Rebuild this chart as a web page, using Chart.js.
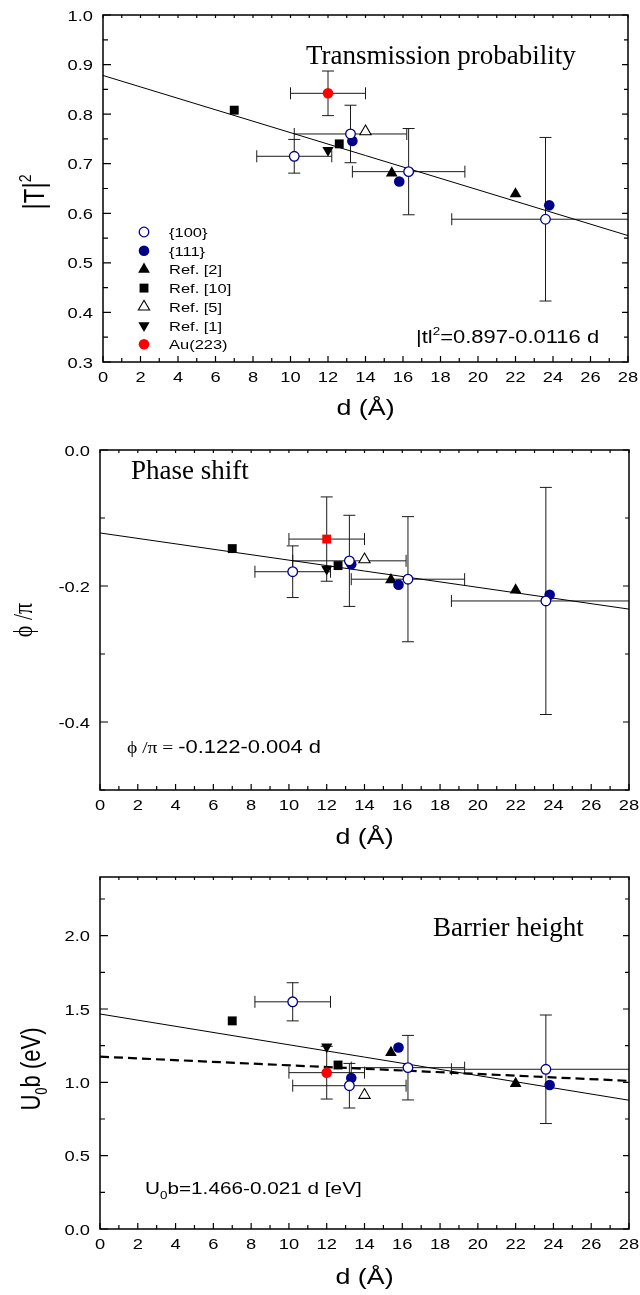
<!DOCTYPE html>
<html>
<head>
<meta charset="utf-8">
<script src="https://cdn.jsdelivr.net/npm/chart.js@4.4.1/dist/chart.umd.min.js"></script>
<style>
body { margin: 0; background: #fff; width: 640px; height: 1295px; overflow: hidden; position: relative; }
canvas { position: absolute; left: 0; }
</style>
</head>
<body>
<canvas id="c1" width="640" height="425" style="top:0px"></canvas>
<canvas id="c2" width="640" height="435" style="top:425px"></canvas>
<canvas id="c3" width="640" height="435" style="top:860px"></canvas>
<script>
// thickness d (Å), shared by all three panels
const d100 = [10.2, 13.2, 16.3, 23.6];
const d100Err = [2, 3, 3, 5];
const d111 = [13.3, 15.8, 23.8];
const dRef2 = [15.4, 22.0];
const dRef10 = [7.0, 12.6];
const dRef5 = [14.0];
const dRef1 = [12.0];
const dAu = [12.0];
const dAuErr = [2];
const dFit = [0, 28];

// |T|^2
const t100 = [0.715, 0.760, 0.684, 0.588];
const t100Err = [0.034, 0.058, 0.087, 0.165];
const t111 = [0.746, 0.664, 0.616];
const tRef2 = [0.681, 0.639];
const tRef10 = [0.808, 0.740];
const tRef5 = [0.765];
const tRef1 = [0.727];
const tAu = [0.842];
const tAuErr = [0.045];
const tFit = [0.878, 0.555];

// phi / pi
const p100 = [-0.179, -0.163, -0.190, -0.222];
const p100Err = [0.038, 0.067, 0.092, 0.167];
const p111 = [-0.168, -0.198, -0.213];
const pRef2 = [-0.191, -0.206];
const pRef10 = [-0.145, -0.170];
const pRef5 = [-0.161];
const pRef1 = [-0.175];
const pAu = [-0.131];
const pAuErr = [0.062];
const pFit = [-0.122, -0.234];

// U0 b (eV)
const u100 = [1.549, 0.977, 1.100, 1.089];
const u100Err = [0.13, 0.152, 0.22, 0.37];
const u111 = [1.030, 1.237, 0.982];
const uRef2 = [1.203, 0.991];
const uRef10 = [1.419, 1.118];
const uRef5 = [0.913];
const uRef1 = [1.242];
const uAu = [1.066];
const uAuErr = [0.18];
const uFit = [1.466, 0.878];
const uFitDash = [1.175, 1.010];

// tick labels
const dTickLabels = [0, 2, 4, 6, 8, 10, 12, 14, 16, 18, 20, 22, 24, 26, 28];
const tTickLabels = [0.3, 0.4, 0.5, 0.6, 0.7, 0.8, 0.9, 1.0];
const pTickLabels = [0.0, -0.2, -0.4];
const uTickLabels = [0.0, 0.5, 1.0, 1.5, 2.0];

const legendLabels = ["{100}", "{111}", "Ref. [2]", "Ref. [10]", "Ref. [5]", "Ref. [1]", "Au(223)"];

const NAVY = "#00008b";
const SANS = '"Liberation Sans", Arial, sans-serif';
const SERIF = '"Liberation Serif", "Times New Roman", serif';
const SX = 1.22; // sans text in the figure is a little wide

function pts(xs, ys) {
    return xs.map((x, i) => ({ x: x, y: ys[i] }));
}

function tickValues(min, max, step) {
    const v = [];
    for (let k = Math.round(min / step); k * step <= max + 1e-9; k++) {
        v.push(+(k * step).toFixed(6));
    }
    return v;
}

// draw a run of text pieces: [text, size, dy, family]
function textRun(ctx, parts, x, y, align, sx, rotate) {
    ctx.save();
    ctx.translate(x, y);
    ctx.scale(sx || 1, 1);
    if (rotate) ctx.rotate(-Math.PI / 2);
    let w = 0;
    parts.forEach(p => {
        ctx.font = p[1] + "px " + (p[3] || SANS);
        w += ctx.measureText(p[0]).width;
    });
    let cx = align === "center" ? -w / 2 : (align === "right" ? -w : 0);
    ctx.textAlign = "left";
    ctx.textBaseline = "alphabetic";
    ctx.fillStyle = "#000";
    parts.forEach(p => {
        ctx.font = p[1] + "px " + (p[3] || SANS);
        ctx.fillText(p[0], cx, p[2] || 0);
        cx += ctx.measureText(p[0]).width;
    });
    ctx.restore();
}

function marker(ctx, ds, x, y) {
    ctx.save();
    ctx.fillStyle = ds.pointBackgroundColor;
    ctx.strokeStyle = ds.pointBorderColor;
    ctx.lineWidth = ds.pointBorderWidth;
    Chart.helpers.drawPoint(ctx, {
        pointStyle: ds.legendStyle || ds.pointStyle,
        radius: ds.pointRadius,
        rotation: ds.pointRotation || 0,
        borderWidth: ds.pointBorderWidth
    }, x, y);
    ctx.restore();
}

const decor = {
    id: "decor",
    beforeDatasetsDraw(chart, args, o) {
        const { ctx, chartArea: a } = chart;
        const xs = chart.scales.x, ys = chart.scales.y;
        ctx.save();
        ctx.beginPath();
        ctx.rect(a.left, a.top, a.right - a.left, a.bottom - a.top);
        ctx.clip();
        ctx.strokeStyle = "#1a1a1a";
        ctx.lineWidth = 1;
        chart.data.datasets.forEach(ds => {
            if (!ds.errX && !ds.errY) return;
            ds.data.forEach((p, i) => {
                const px = xs.getPixelForValue(p.x), py = ys.getPixelForValue(p.y);
                const ex = ds.errX ? ds.errX[i] : 0;
                const ey = ds.errY ? ds.errY[i] : 0;
                ctx.beginPath();
                if (ex) {
                    const x0 = xs.getPixelForValue(p.x - ex), x1 = xs.getPixelForValue(p.x + ex);
                    ctx.moveTo(x0, py); ctx.lineTo(x1, py);
                    ctx.moveTo(x0, py - 6); ctx.lineTo(x0, py + 6);
                    ctx.moveTo(x1, py - 6); ctx.lineTo(x1, py + 6);
                }
                if (ey) {
                    const y0 = ys.getPixelForValue(p.y + ey), y1 = ys.getPixelForValue(p.y - ey);
                    ctx.moveTo(px, y0); ctx.lineTo(px, y1);
                    ctx.moveTo(px - 6, y0); ctx.lineTo(px + 6, y0);
                    ctx.moveTo(px - 6, y1); ctx.lineTo(px + 6, y1);
                }
                ctx.stroke();
            });
        });
        ctx.restore();
    },
    afterDraw(chart, args, o) {
        const { ctx, chartArea: a } = chart;
        const xs = chart.scales.x, ys = chart.scales.y;
        ctx.save();
        // frame
        ctx.strokeStyle = "#000";
        ctx.lineWidth = 1.5;
        ctx.strokeRect(a.left, a.top, a.right - a.left, a.bottom - a.top);
        // ticks
        ctx.lineWidth = 1.2;
        ctx.beginPath();
        tickValues(xs.min, xs.max, 1).forEach(v => {
            const px = xs.getPixelForValue(v);
            const len = v % 2 === 0 ? 6 : 4;
            ctx.moveTo(px, a.bottom); ctx.lineTo(px, a.bottom - len);
            ctx.moveTo(px, a.top); ctx.lineTo(px, a.top + 3);
        });
        tickValues(ys.min, ys.max, o.minor).forEach(v => {
            const py = ys.getPixelForValue(v);
            const major = o.yLabels.some(l => Math.abs(l - v) < 1e-6);
            ctx.moveTo(a.left, py); ctx.lineTo(a.left + (major ? 8 : 5), py);
            ctx.moveTo(a.right, py); ctx.lineTo(a.right - (major ? 6 : 4), py);
        });
        ctx.stroke();
        ctx.restore();

        // tick labels
        ctx.save();
        ctx.fillStyle = "#000";
        dTickLabels.forEach(v => {
            textRun(ctx, [[String(v), 15]], xs.getPixelForValue(v), a.bottom + 20, "center", SX);
        });
        o.yLabels.forEach(v => {
            textRun(ctx, [[v.toFixed(1), 15]], a.left - 10, ys.getPixelForValue(v) + 5.5, "right", SX);
        });
        ctx.restore();

        // axis titles
        textRun(ctx, [["d (Å)", 22]], (a.left + a.right) / 2, o.xTitleY, "center", SX);
        textRun(ctx, o.yTitle, o.yTitleX, o.yTitleY, "center", SX, true);

        // panel title
        textRun(ctx, [[o.title, 27, 0, SERIF]], o.titleX, o.titleY, "left", 1);

        // equation
        textRun(ctx, o.eq, o.eqX, o.eqY, "left", SX);

        // legend
        if (o.legend) {
            chart.data.datasets.slice(0, 7).forEach((ds, i) => {
                const yy = 232 + i * 18.7;
                marker(ctx, ds, 144, yy);
                textRun(ctx, [[ds.label, 13.5]], 169, yy + 5, "left", SX);
            });
        }
    }
};

function buildDatasets(v) {
    const sets = [
        { label: legendLabels[0], data: pts(d100, v.s100), errX: d100Err, errY: v.e100,
          pointStyle: "circle", pointRadius: 4.8, pointBackgroundColor: "#fff",
          pointBorderColor: NAVY, pointBorderWidth: 1.3 },
        { label: legendLabels[1], data: pts(d111, v.s111),
          pointStyle: "circle", pointRadius: 5.3, pointBackgroundColor: NAVY,
          pointBorderColor: NAVY, pointBorderWidth: 0 },
        { label: legendLabels[2], data: pts(dRef2, v.ref2),
          pointStyle: "triangle", pointRadius: 6.8, pointBackgroundColor: "#000",
          pointBorderColor: "#000", pointBorderWidth: 0 },
        { label: legendLabels[3], data: pts(dRef10, v.ref10),
          pointStyle: "rect", pointRadius: 6.3, pointBackgroundColor: "#000",
          pointBorderColor: "#000", pointBorderWidth: 0 },
        { label: legendLabels[4], data: pts(dRef5, v.ref5),
          pointStyle: "triangle", pointRadius: 6.5, pointBackgroundColor: "#fff",
          pointBorderColor: "#000", pointBorderWidth: 1.1 },
        { label: legendLabels[5], data: pts(dRef1, v.ref1),
          pointStyle: "triangle", pointRotation: 180, pointRadius: 6.5, pointBackgroundColor: "#000",
          pointBorderColor: "#000", pointBorderWidth: 0 },
        { label: legendLabels[6], data: pts(dAu, v.au), errX: dAuErr, errY: v.eAu,
          pointStyle: v.auStyle, legendStyle: "circle", pointRadius: v.auStyle === "rect" ? 6.3 : 5.3,
          pointBackgroundColor: "#ff0000", pointBorderColor: "#ff0000", pointBorderWidth: 0 }
    ];
    sets.forEach(s => { s.showLine = false; });
    v.fits.forEach(f => {
        sets.push({
            label: "fit", data: pts(dFit, f.y), showLine: true, pointRadius: 0,
            borderColor: "#000", borderWidth: f.dash ? 2.2 : 1, borderDash: f.dash || [],
            order: 10
        });
    });
    return sets;
}

function makePanel(id, area, yMin, yMax, v, deco) {
    const canvas = document.getElementById(id);
    return new Chart(canvas.getContext("2d"), {
        type: "scatter",
        data: { datasets: buildDatasets(v) },
        options: {
            responsive: false,
            animation: false,
            devicePixelRatio: 1,
            events: [],
            layout: {
                padding: {
                    left: area.l, top: area.t,
                    right: canvas.width - area.r, bottom: canvas.height - area.b
                }
            },
            scales: {
                x: { type: "linear", min: 0, max: 28, display: false },
                y: { type: "linear", min: yMin, max: yMax, display: false }
            },
            plugins: {
                legend: { display: false },
                tooltip: { enabled: false },
                decor: deco
            }
        },
        plugins: [decor]
    });
}

makePanel("c1", { l: 103, t: 15, r: 628, b: 362 }, 0.3, 1.0,
    { s100: t100, e100: t100Err, s111: t111, ref2: tRef2, ref10: tRef10, ref5: tRef5,
      ref1: tRef1, au: tAu, eAu: tAuErr, auStyle: "circle", fits: [{ y: tFit }] },
    { minor: 0.05, yLabels: tTickLabels, xTitleY: 415,
      yTitle: [["|T|", 24], ["2", 14, -11]], yTitleX: 44, yTitleY: 192,
      title: "Transmission probability", titleX: 306, titleY: 64,
      eq: [["|tl", 18], ["2", 11, -8], ["=0.897-0.0116 d", 18]], eqX: 416, eqY: 343,
      legend: true });

makePanel("c2", { l: 100, t: 25, r: 629, b: 365 }, -0.5, 0.0,
    { s100: p100, e100: p100Err, s111: p111, ref2: pRef2, ref10: pRef10, ref5: pRef5,
      ref1: pRef1, au: pAu, eAu: pAuErr, auStyle: "rect", fits: [{ y: pFit }] },
    { minor: 0.1, yLabels: pTickLabels, xTitleY: 419,
      yTitle: [["\u03d5 /\u03c0", 22, 0, SERIF]], yTitleX: 32, yTitleY: 195,
      title: "Phase shift", titleX: 131, titleY: 54,
      eq: [["\u03d5 /\u03c0 = ", 16, 0, SERIF], ["-0.122-0.004 d", 18]], eqX: 127, eqY: 328,
      legend: false });

makePanel("c3", { l: 100, t: 17, r: 629, b: 369 }, 0.0, 2.4,
    { s100: u100, e100: u100Err, s111: u111, ref2: uRef2, ref10: uRef10, ref5: uRef5,
      ref1: uRef1, au: uAu, eAu: uAuErr, auStyle: "circle",
      fits: [{ y: uFit }, { y: uFitDash, dash: [9, 5] }] },
    { minor: 0.25, yLabels: uTickLabels, xTitleY: 424,
      yTitle: [["U", 22], ["0", 13, 6], ["b (eV)", 22]], yTitleX: 40, yTitleY: 209,
      title: "Barrier height", titleX: 433, titleY: 76,
      eq: [["U", 17], ["0", 11, 5], ["b=1.466-0.021 d [eV]", 17]], eqX: 145, eqY: 334,
      legend: false });
</script>
</body>
</html>
